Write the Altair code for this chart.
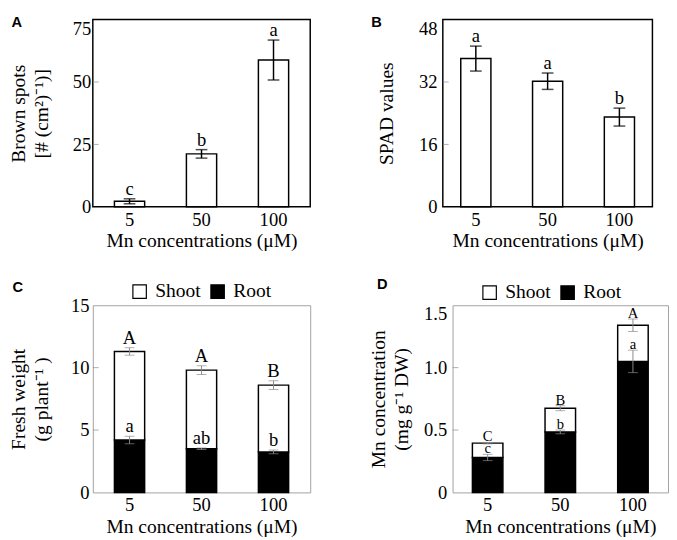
import altair as alt
import pandas as pd

SERIF = "Liberation Serif"
SANS = "Liberation Sans"

conc = ["5", "50", "100"]

# Panel A: brown spots
a_mean = [2.2, 21.2, 58.8]
a_err = [1.0, 1.7, 8.0]
a_letters = ["c", "b", "a"]
a_ticks = [0, 25, 50, 75]

# Panel B: SPAD values
b_mean = [38.0, 32.2, 23.0]
b_err = [3.2, 2.1, 2.3]
b_letters = ["a", "a", "b"]
b_ticks = [0, 16, 32, 48]

# Panel C: fresh weight
c_total = [11.3, 9.8, 8.6]
c_total_err = [0.3, 0.35, 0.35]
c_root = [4.2, 3.5, 3.25]
c_root_err = [0.3, 0.06, 0.15]
c_upper = ["A", "A", "B"]
c_lower = ["a", "ab", "b"]
c_ticks = [0, 5, 10, 15]

# Panel D: Mn concentration
d_total = [0.395, 0.675, 1.34]
d_total_err = [0.006, 0.02, 0.05]
d_root = [0.28, 0.485, 1.05]
d_root_err = [0.025, 0.015, 0.09]
d_upper = ["C", "B", "A"]
d_lower = ["c", "b", "a"]
d_ticks = [0, 0.5, 1.0, 1.5]

parts = ["Shoot", "Root"]
part_colors = ["white", "black"]

XTITLE = "Mn concentrations (\u03bcM)"
PLOT_H = 192


def make_x(po):
    return alt.X(
        "conc:N", sort=conc,
        scale=alt.Scale(paddingInner=0.58, paddingOuter=po),
        axis=alt.Axis(title=XTITLE, labelAngle=0, ticks=False, domain=False,
                      labelPadding=4, titlePadding=2),
    )


def make_y(field, ticks, title, lp, tp, label_expr=None, flush_top=True):
    kw = dict(values=ticks, title=title, grid=False, ticks=False, domain=False,
              labelPadding=lp, minExtent=28, maxExtent=28, titlePadding=tp,
              titleLineHeight=24)
    if flush_top:
        kw["labelBaseline"] = {"condition": {"test": "datum.value == %s" % ticks[-1],
                                             "value": "top"},
                               "value": "middle"}
    if label_expr:
        kw["labelExpr"] = label_expr
    return alt.Y(field, scale=alt.Scale(domain=[ticks[0], ticks[-1]], nice=False),
                 axis=alt.Axis(**kw))


def inner_ticks(ticks, yf, color):
    tdf = pd.DataFrame({"t": ticks[1:-1]})
    return alt.Chart(tdf).mark_tick(orient="horizontal", size=6, thickness=1,
                                    color=color).encode(
        y=yf("t:Q"), x=alt.value(3))


def panel_letter(letter, px, py):
    return alt.Chart(pd.DataFrame({"t": [letter]})).mark_text(
        font=SANS, fontSize=15, fontWeight="bold", align="center",
        baseline="middle", color="black").encode(
        x=alt.value(px), y=alt.value(py), text="t:N")


def simple_panel(mean, err, letters, ticks, ytitle, letter, width, po, lp, tp, lx, ly):
    df = pd.DataFrame({
        "conc": conc, "mean": mean,
        "lo": [m - e for m, e in zip(mean, err)],
        "hi": [m + e for m, e in zip(mean, err)],
        "letter": letters,
    })
    x = make_x(po)
    yf = lambda f: make_y(f, ticks, ytitle, lp, tp)
    base = alt.Chart(df)
    bars = base.mark_bar(fill="white", stroke="black", strokeWidth=1.5).encode(x=x, y=yf("mean:Q"))
    rule = base.mark_rule(color="black", strokeWidth=1.5).encode(x=x, y=yf("lo:Q"), y2="hi:Q")
    cap_hi = base.mark_tick(orient="horizontal", size=12, thickness=1.5, color="black").encode(x=x, y=yf("hi:Q"))
    cap_lo = base.mark_tick(orient="horizontal", size=12, thickness=1.5, color="black").encode(x=x, y=yf("lo:Q"))
    txt = base.mark_text(font=SERIF, fontSize=19, baseline="alphabetic", dy=-4,
                         color="black").encode(x=x, y=yf("hi:Q"), text="letter:N")
    return alt.layer(bars, rule, cap_hi, cap_lo, txt,
                     inner_ticks(ticks, yf, "#888888"),
                     panel_letter(letter, lx, ly)).properties(
        width=width, height=PLOT_H,
        view=alt.ViewBackground(stroke="black", strokeWidth=1.5))


def stacked_panel(total, total_err, root, root_err, upper, lower, ticks, ytitle,
                  letter, width, po, lp, tp, lx, ly, legx, legy, label_expr=None,
                  letter_size=19, letter_dy=-4, flush_top=False):
    bar_df = pd.DataFrame({
        "conc": conc * 2,
        "part": ["Root"] * 3 + ["Shoot"] * 3,
        "y0": [0] * 3 + list(root),
        "y1": list(root) + list(total),
    })
    err_df = pd.DataFrame({
        "conc": conc * 2,
        "lo": [v - e for v, e in zip(root, root_err)] + [v - e for v, e in zip(total, total_err)],
        "hi": [v + e for v, e in zip(root, root_err)] + [v + e for v, e in zip(total, total_err)],
        "letter": list(lower) + list(upper),
    })
    x = make_x(po)
    yf = lambda f: make_y(f, ticks, ytitle, lp, tp, label_expr, flush_top)
    bars = alt.Chart(bar_df).mark_bar(stroke="black", strokeWidth=1.5).encode(
        x=x, y=yf("y1:Q"), y2="y0:Q",
        fill=alt.Fill("part:N", scale=alt.Scale(domain=parts, range=part_colors),
                      legend=alt.Legend(orient="none", legendX=legx, legendY=legy,
                                        direction="horizontal", title=None,
                                        symbolType="square", symbolSize=190,
                                        symbolStrokeColor="black", symbolStrokeWidth=1.2,
                                        labelFont=SERIF, labelFontSize=20,
                                        labelColor="black", labelOffset=6,
                                        columnPadding=7)),
    )
    eb = alt.Chart(err_df)
    gray = "#8a8a8a"
    rule = eb.mark_rule(color=gray, strokeWidth=1).encode(x=x, y=yf("lo:Q"), y2="hi:Q")
    cap_hi = eb.mark_tick(orient="horizontal", size=10, thickness=1, color=gray).encode(x=x, y=yf("hi:Q"))
    cap_lo = eb.mark_tick(orient="horizontal", size=10, thickness=1, color=gray).encode(x=x, y=yf("lo:Q"))
    txt = eb.mark_text(font=SERIF, fontSize=letter_size, baseline="alphabetic", dy=letter_dy,
                       color="black").encode(x=x, y=yf("hi:Q"), text="letter:N")
    return alt.layer(bars, rule, cap_hi, cap_lo, txt,
                     inner_ticks(ticks, yf, gray),
                     panel_letter(letter, lx, ly)).properties(
        width=width, height=PLOT_H,
        view=alt.ViewBackground(stroke="#a0a0a0", strokeWidth=1))


pA = simple_panel(a_mean, a_err, a_letters, a_ticks,
                  ["Brown spots", "[# (cm\u00b2)\u207b\u00b9)]"], "A",
                  223, 0.3, 2, 14, -78, 3)
pB = simple_panel(b_mean, b_err, b_letters, b_ticks, "SPAD values", "B",
                  215, 0.25, 6, 20, -68, 3)
pC = stacked_panel(c_total, c_total_err, c_root, c_root_err, c_upper, c_lower,
                   c_ticks, ["Fresh weight", "(g plant\u207b\u00b9 )"], "C",
                   223, 0.3, 4, 14, -77, -19, 38, -24, letter_dy=-4)
pD = stacked_panel(d_total, d_total_err, d_root, d_root_err, d_upper, d_lower,
                   d_ticks, ["Mn concentration", "(mg g\u207b\u00b9 DW)"], "D",
                   221, 0.273, 6, 14, -72, -22, 28, -23,
                   label_expr="datum.value == 0 ? '0' : format(datum.value, '.1f')",
                   letter_size=15, letter_dy=-1, flush_top=True)

row1 = alt.hconcat(pA, pB, spacing=60)
row2 = alt.hconcat(pC, pD, spacing=58).resolve_scale(fill="independent").resolve_legend(fill="independent")

chart = alt.vconcat(row1, row2, spacing=25).properties(
    padding={"left": 0, "top": 0, "right": 0, "bottom": 0}
).configure_axis(
    labelFont=SERIF, titleFont=SERIF, labelColor="black", titleColor="black",
    labelFontSize=19, titleFontSize=20, titleFontWeight="normal",
).configure_view(stroke="black")

chart.save("out.html", embed_options={"renderer": "svg", "actions": False})
